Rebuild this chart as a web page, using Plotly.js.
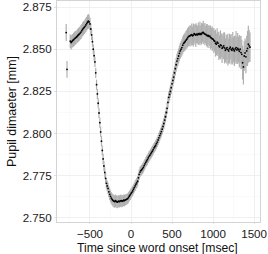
<!DOCTYPE html>
<html>
<head>
<meta charset="utf-8">
<script src="https://cdn.plot.ly/plotly-3.0.1.min.js"></script>
<style>html,body{margin:0;padding:0;background:#fff;}#chart{width:268px;height:254px;}</style>
</head>
<body>
<div id="chart"></div>
<script>
const timeMs = [-790,-780,
-740,-730,-720,-710,-700,-690,-680,-670,-660,-650,-640,-630,-620,-610,-600,-590,-580,-570,-560,-550,-540,-530,-520,
-510,-500,-490,-480,-470,-460,-450,-440,-430,-420,-410,-400,-390,-380,-370,-360,-350,-340,-330,-320,
-310,-300,-290,-280,-270,-260,-250,-240,-230,-220,-210,-200,
-190,-180,-170,-160,-150,-140,-130,-120,-110,-100,-90,-80,-70,-60,-50,-40,-30,-20,-10,
0,10,20,30,40,50,60,70,80,90,100,110,120,130,140,150,160,170,180,190,200,210,220,230,240,250,260,270,280,290,300,310,320,330,340,350,360,370,380,390,400,
410,420,430,440,450,460,470,480,490,500,510,520,530,540,550,560,570,580,590,600,610,620,630,640,650,660,670,680,690,700,
710,720,730,740,750,760,770,780,790,800,810,820,830,840,850,860,870,880,890,900,910,920,930,940,950,960,970,980,990,1000,
1010,1020,1030,1040,1050,1060,1070,1080,1090,1100,1110,1120,1130,1140,1150,1160,1170,1180,1190,1200,1210,1220,1230,1240,1250,1260,1270,1280,1290,1300,1310,1320,1330,1340,1350,1360,1370,1380,1390,1400,1410,1420,1430,1440,1450];
const pupilMm = [2.8599,2.8381,
2.8548,2.8540,2.8546,2.8552,2.8556,2.8562,2.8566,2.8570,2.8574,2.8580,2.8586,2.8590,2.8596,2.8602,2.8610,2.8618,2.8624,2.8630,2.8636,2.8644,2.8652,2.8660,2.8666,
2.8662,2.8650,2.8620,2.8585,2.8545,2.8500,2.8462,2.8425,2.8360,2.8290,2.8235,2.8180,2.8122,2.8065,2.8010,2.7955,2.7900,2.7850,2.7808,2.7770,
2.7735,2.7705,2.7690,2.7675,2.7655,2.7640,2.7628,2.7618,2.7610,2.7604,2.7600,2.7597,
2.7602,2.7598,2.7594,2.7596,2.7600,2.7597,2.7601,2.7603,2.7599,2.7601,2.7605,2.7603,2.7607,2.7609,2.7612,2.7615,2.7622,2.7630,2.7637,
2.7645,2.7652,2.7660,2.7670,2.7680,2.7690,2.7700,2.7708,2.7718,2.7738,2.7758,2.7772,2.7780,2.7785,2.7792,2.7800,2.7810,2.7820,2.7830,2.7838,2.7846,2.7856,2.7865,2.7872,2.7880,2.7888,2.7896,2.7905,2.7915,2.7922,2.7930,2.7940,2.7950,2.7962,2.7975,2.7988,2.8000,2.8012,2.8026,2.8042,2.8060,
2.8080,2.8100,2.8125,2.8150,2.8185,2.8215,2.8232,2.8250,2.8272,2.8295,2.8315,2.8335,2.8360,2.8385,2.8408,2.8430,2.8445,2.8460,2.8476,2.8490,2.8500,2.8510,2.8524,2.8535,2.8540,2.8546,2.8554,2.8560,2.8568,2.8575,
2.8578,2.8580,2.8584,2.8586,2.8580,2.8584,2.8592,2.8588,2.8584,2.8590,2.8586,2.8592,2.8588,2.8594,2.8588,2.8592,2.8598,2.8600,2.8594,2.8590,2.8588,2.8584,2.8580,2.8582,2.8576,2.8578,2.8570,2.8566,2.8562,2.8560,
2.8552,2.8548,2.8536,2.8530,2.8542,2.8536,2.8520,2.8514,2.8526,2.8522,2.8506,2.8512,2.8520,2.8508,2.8494,2.8502,2.8510,2.8498,2.8490,2.8504,2.8512,2.8500,2.8494,2.8506,2.8498,2.8490,2.8502,2.8510,2.8496,2.8505,2.8498,2.8488,2.8500,2.8480,2.8470,2.8420,2.8395,2.8460,2.8478,2.8455,2.8490,2.8505,2.8530,2.8520,2.8512];
const stdErr = [0.0050,0.0050,
0.0040,0.0041,0.0040,0.0039,0.0040,0.0041,0.0040,0.0040,0.0039,0.0040,0.0041,0.0040,0.0040,0.0041,0.0040,0.0040,0.0041,0.0040,0.0041,0.0042,0.0041,0.0042,0.0043,
0.0040,0.0036,0.0032,0.0030,0.0030,0.0030,0.0030,0.0030,0.0030,0.0030,0.0030,0.0030,0.0030,0.0030,0.0030,0.0030,0.0030,0.0030,0.0030,0.0030,
0.0031,0.0032,0.0032,0.0033,0.0033,0.0034,0.0034,0.0035,0.0035,0.0036,0.0036,0.0036,
0.0037,0.0036,0.0037,0.0036,0.0036,0.0035,0.0036,0.0035,0.0035,0.0034,0.0034,0.0033,0.0033,0.0032,0.0032,0.0031,0.0031,0.0030,0.0030,
0.0030,0.0029,0.0029,0.0029,0.0029,0.0030,0.0030,0.0030,0.0030,0.0030,0.0031,0.0031,0.0030,0.0030,0.0030,0.0030,0.0030,0.0030,0.0030,0.0030,0.0030,0.0030,0.0030,0.0030,0.0030,0.0030,0.0030,0.0030,0.0030,0.0030,0.0030,0.0030,0.0030,0.0030,0.0030,0.0031,0.0031,0.0031,0.0032,0.0032,0.0032,
0.0033,0.0033,0.0034,0.0034,0.0035,0.0035,0.0036,0.0036,0.0037,0.0038,0.0038,0.0039,0.0040,0.0041,0.0042,0.0043,0.0044,0.0045,0.0046,0.0047,0.0048,0.0049,0.0050,0.0051,0.0052,0.0053,0.0054,0.0055,0.0056,0.0057,
0.0058,0.0064,0.0052,0.0066,0.0054,0.0068,0.0052,0.0061,0.0070,0.0055,0.0052,0.0067,0.0056,0.0070,0.0053,0.0064,0.0055,0.0069,0.0057,0.0066,0.0052,0.0064,0.0070,0.0056,0.0068,0.0058,0.0071,0.0060,0.0073,0.0062,
0.0074,0.0062,0.0080,0.0064,0.0082,0.0066,0.0084,0.0068,0.0086,0.0070,0.0088,0.0068,0.0080,0.0092,0.0070,0.0086,0.0072,0.0094,0.0074,0.0088,0.0072,0.0090,0.0076,0.0096,0.0074,0.0090,0.0076,0.0098,0.0078,0.0092,0.0076,0.0096,0.0080,0.0098,0.0086,0.0100,0.0104,0.0088,0.0086,0.0098,0.0090,0.0104,0.0110,0.0094,0.0088];

const xTitle = 'Time since word onset [msec]';
const yTitle = 'Pupil dimaeter [mm]';

const data = [{
  type: 'scatter', mode: 'markers',
  x: timeMs, y: pupilMm,
  marker: {color: '#000', size: 1.8},
  error_y: {type: 'data', array: stdErr, visible: true, color: '#b0b0b0', thickness: 1.2, width: 0},
  hoverinfo: 'none'
}];
const axisFont = {family: 'Liberation Sans, Arial, sans-serif', size: 11.6, color: '#1a1a1a'};
const layout = {
  width: 268, height: 254,
  margin: {l: 57, r: 8, t: 1, b: 32},
  paper_bgcolor: '#fff', plot_bgcolor: '#fff',
  showlegend: false,
  font: {family: 'Liberation Sans, Arial, sans-serif', color: '#1a1a1a'},
  xaxis: {
    range: [-902, 1572], tickvals: [-500, 0, 500, 1000, 1500],
    ticktext: ['\u2212500', '0', '500', '1000', '1500'],
    showgrid: true, gridcolor: '#ececec', gridwidth: 0.8,
    minor: {tickvals: [-750, -250, 250, 750, 1250], showgrid: true, gridcolor: '#f5f5f5', gridwidth: 0.5},
    zeroline: false, showline: true, mirror: true, linecolor: '#d4d4d4', linewidth: 1,
    ticks: 'outside', ticklen: 1, tickcolor: '#e0e0e0',
    tickfont: axisFont
  },
  yaxis: {
    range: [2.7476, 2.8786], tickvals: [2.750, 2.775, 2.800, 2.825, 2.850, 2.875],
    ticktext: ['2.750', '2.775', '2.800', '2.825', '2.850', '2.875'],
    showgrid: true, gridcolor: '#ececec', gridwidth: 0.8,
    minor: {tickvals: [2.7625, 2.7875, 2.8125, 2.8375, 2.8625], showgrid: true, gridcolor: '#f5f5f5', gridwidth: 0.5},
    zeroline: false, showline: true, mirror: true, linecolor: '#d4d4d4', linewidth: 1,
    ticks: 'outside', ticklen: 2, tickcolor: '#e0e0e0',
    tickfont: axisFont,
    title: {text: yTitle, font: {size: 12.5, color: '#111'}, standoff: 3}
  },
  annotations: [{
    text: xTitle, xref: 'paper', yref: 'paper', x: 0.495, y: -0.118,
    xanchor: 'center', yanchor: 'middle', showarrow: false, borderpad: 0,
    font: {family: 'Liberation Sans, Arial, sans-serif', size: 12.2, color: '#111'}
  }]
};
Plotly.newPlot('chart', data, layout, {staticPlot: true, displayModeBar: false});
</script>
</body>
</html>
